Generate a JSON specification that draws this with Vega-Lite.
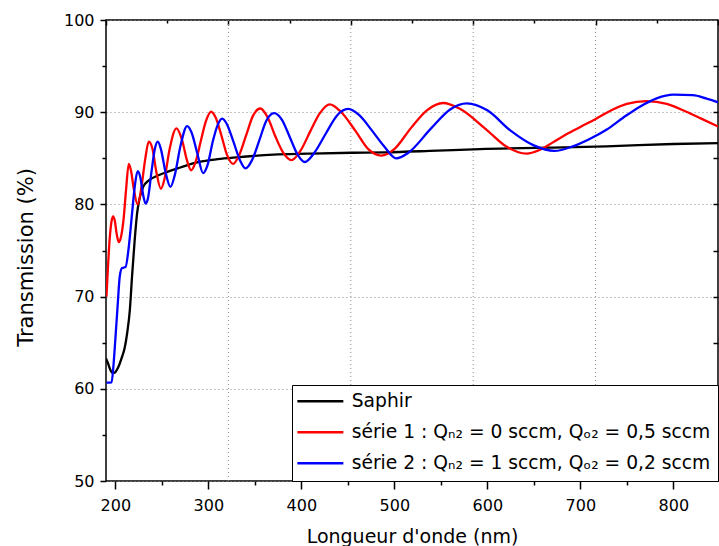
{
  "$schema": "https://vega.github.io/schema/vega-lite/v6.json",
  "width": 612,
  "height": 461,
  "autosize": {"type": "none"},
  "padding": {"left": 106, "top": 20, "right": 1, "bottom": 65},
  "config": {
    "view": {"stroke": "black", "strokeWidth": 1.5},
    "font": "DejaVu Sans",
    "axis": {
      "domain": false,
      "tickColor": "black",
      "tickWidth": 1.5,
      "labelFont": "DejaVu Sans",
      "labelFontSize": 16,
      "labelColor": "black",
      "titleFont": "DejaVu Sans",
      "titleFontSize": 19,
      "titleFontWeight": "normal",
      "titleColor": "black"
    }
  },
  "datasets": {
    "series": [
      {"s":"a","x":190,"y":63.3},{"s":"a","x":192,"y":62.8},{"s":"a","x":194.5,"y":62.1},{"s":"a","x":197.3,"y":61.7},{"s":"a","x":200,"y":61.8},{"s":"a","x":203,"y":62.3},{"s":"a","x":207.3,"y":63.5},{"s":"a","x":210,"y":64.4},{"s":"a","x":212.7,"y":66},{"s":"a","x":215.6,"y":68.5},{"s":"a","x":218,"y":72.2},{"s":"a","x":220.6,"y":75.8},{"s":"a","x":223.4,"y":79},{"s":"a","x":226,"y":80.6},{"s":"a","x":230,"y":81.9},{"s":"a","x":236,"y":82.6},{"s":"a","x":245,"y":83.1},{"s":"a","x":255,"y":83.5},{"s":"a","x":270,"y":84.0},{"s":"a","x":290,"y":84.6},{"s":"a","x":310,"y":84.9},{"s":"a","x":330,"y":85.1},{"s":"a","x":370,"y":85.4},{"s":"a","x":407,"y":85.5},{"s":"a","x":454,"y":85.6},{"s":"a","x":490,"y":85.65},{"s":"a","x":538,"y":85.8},{"s":"a","x":592,"y":86.0},{"s":"a","x":667,"y":86.15},{"s":"a","x":728,"y":86.3},{"s":"a","x":800,"y":86.55},{"s":"a","x":848,"y":86.65},
      {"s":"b","x":190.5,"y":70.0},{"s":"b","x":192,"y":73},{"s":"b","x":194,"y":76.3},{"s":"b","x":196,"y":78.2},{"s":"b","x":197.7,"y":78.7},{"s":"b","x":199.5,"y":78.2},{"s":"b","x":201.5,"y":76.8},{"s":"b","x":203.8,"y":75.9},{"s":"b","x":206,"y":76.4},{"s":"b","x":209,"y":78.5},{"s":"b","x":211.5,"y":81.5},{"s":"b","x":214.5,"y":84.4},{"s":"b","x":217,"y":83.6},{"s":"b","x":220,"y":81.6},{"s":"b","x":224,"y":80.0},{"s":"b","x":228,"y":81.8},{"s":"b","x":232,"y":84.8},{"s":"b","x":236,"y":86.8},{"s":"b","x":240,"y":86.0},{"s":"b","x":244,"y":83.6},{"s":"b","x":249,"y":81.7},{"s":"b","x":253,"y":82.8},{"s":"b","x":258,"y":85.8},{"s":"b","x":265.8,"y":88.25},{"s":"b","x":272,"y":86.9},{"s":"b","x":277,"y":84.8},{"s":"b","x":281.5,"y":83.7},{"s":"b","x":286,"y":84.5},{"s":"b","x":292,"y":86.9},{"s":"b","x":297,"y":88.9},{"s":"b","x":303,"y":90.05},{"s":"b","x":308,"y":89.4},{"s":"b","x":314,"y":87.5},{"s":"b","x":320,"y":85.4},{"s":"b","x":326.7,"y":84.4},{"s":"b","x":333,"y":85.3},{"s":"b","x":341,"y":87.6},{"s":"b","x":348,"y":89.6},{"s":"b","x":356,"y":90.4},{"s":"b","x":364,"y":89.4},{"s":"b","x":372,"y":87.4},{"s":"b","x":380,"y":85.7},{"s":"b","x":389.5,"y":84.8},{"s":"b","x":399,"y":85.8},{"s":"b","x":410,"y":88.0},{"s":"b","x":420,"y":89.9},{"s":"b","x":430.6,"y":90.85},{"s":"b","x":442,"y":90.1},{"s":"b","x":458,"y":88.0},{"s":"b","x":472,"y":86.0},{"s":"b","x":486,"y":85.3},{"s":"b","x":500,"y":86.0},{"s":"b","x":518,"y":88.3},{"s":"b","x":535,"y":90.2},{"s":"b","x":552.5,"y":91.0},{"s":"b","x":570,"y":90.4},{"s":"b","x":598,"y":88.2},{"s":"b","x":620,"y":86.3},{"s":"b","x":642,"y":85.5},{"s":"b","x":656,"y":85.9},{"s":"b","x":670,"y":86.7},{"s":"b","x":685,"y":87.6},{"s":"b","x":700,"y":88.4},{"s":"b","x":717,"y":89.3},{"s":"b","x":735,"y":90.3},{"s":"b","x":750,"y":90.9},{"s":"b","x":771,"y":91.2},{"s":"b","x":793,"y":90.9},{"s":"b","x":814,"y":90.05},{"s":"b","x":830,"y":89.3},{"s":"b","x":849,"y":88.4},
      {"s":"c","x":190.5,"y":60.66},{"s":"c","x":196,"y":60.7},{"s":"c","x":198,"y":62.5},{"s":"c","x":200,"y":65.3},{"s":"c","x":202.5,"y":69},{"s":"c","x":204.8,"y":72.2},{"s":"c","x":207.3,"y":73.1},{"s":"c","x":211,"y":73.2},{"s":"c","x":214.5,"y":75.4},{"s":"c","x":218,"y":79.0},{"s":"c","x":221,"y":82.0},{"s":"c","x":224,"y":83.6},{"s":"c","x":227,"y":82.9},{"s":"c","x":230,"y":81.0},{"s":"c","x":232.5,"y":80.1},{"s":"c","x":235,"y":80.6},{"s":"c","x":239,"y":83.6},{"s":"c","x":242.5,"y":86.0},{"s":"c","x":245.7,"y":86.8},{"s":"c","x":249,"y":86.0},{"s":"c","x":254,"y":83.5},{"s":"c","x":259.3,"y":81.9},{"s":"c","x":264,"y":83.2},{"s":"c","x":270,"y":86.3},{"s":"c","x":277.2,"y":88.5},{"s":"c","x":282,"y":87.8},{"s":"c","x":288,"y":85.6},{"s":"c","x":294.4,"y":83.4},{"s":"c","x":299,"y":84.2},{"s":"c","x":305,"y":86.9},{"s":"c","x":310,"y":88.6},{"s":"c","x":315,"y":89.3},{"s":"c","x":320,"y":88.7},{"s":"c","x":327,"y":86.8},{"s":"c","x":334,"y":84.8},{"s":"c","x":340,"y":83.9},{"s":"c","x":347,"y":84.8},{"s":"c","x":355,"y":87},{"s":"c","x":362,"y":89.0},{"s":"c","x":370.8,"y":89.9},{"s":"c","x":379,"y":89.2},{"s":"c","x":388,"y":87.2},{"s":"c","x":396,"y":85.4},{"s":"c","x":403.8,"y":84.6},{"s":"c","x":414,"y":85.6},{"s":"c","x":427,"y":87.8},{"s":"c","x":438,"y":89.6},{"s":"c","x":450.3,"y":90.35},{"s":"c","x":462,"y":89.7},{"s":"c","x":476,"y":88.0},{"s":"c","x":489,"y":86.3},{"s":"c","x":502,"y":85.0},{"s":"c","x":515,"y":85.6},{"s":"c","x":540,"y":88.3},{"s":"c","x":560,"y":90.3},{"s":"c","x":578,"y":90.96},{"s":"c","x":600,"y":90.2},{"s":"c","x":625,"y":88.0},{"s":"c","x":650,"y":86.4},{"s":"c","x":672,"y":85.8},{"s":"c","x":692,"y":86.3},{"s":"c","x":710,"y":87.1},{"s":"c","x":728,"y":88.1},{"s":"c","x":746,"y":89.4},{"s":"c","x":764,"y":90.6},{"s":"c","x":782,"y":91.5},{"s":"c","x":800,"y":91.9},{"s":"c","x":821,"y":91.85},{"s":"c","x":835,"y":91.5},{"s":"c","x":849,"y":91.05}
    ],
    "vgrid": [{"g": 2}, {"g": 4}, {"g": 6}, {"g": 8}],
    "dummy": [{"xm": 250, "ym": 55, "xt": 1, "yr": 55}]
  },
  "layer": [
    {
      "data": {"name": "vgrid"},
      "mark": {"type": "rule", "color": "#8c8c8c", "strokeWidth": 1, "strokeDash": [1, 3]},
      "encoding": {
        "x": {
          "field": "g", "type": "quantitative",
          "scale": {"domain": [0, 10], "nice": false, "zero": false},
          "axis": {"orient": "top", "values": [0, 2, 4, 6, 8, 10], "tickSize": -5, "labels": false, "title": null, "grid": false}
        }
      }
    },
    {
      "data": {"name": "dummy"},
      "mark": {"type": "point", "opacity": 0},
      "encoding": {
        "x": {
          "field": "xt", "type": "quantitative",
          "scale": {"domain": [0, 10], "nice": false, "zero": false},
          "axis": {"orient": "top", "values": [1, 3, 5, 7, 9], "tickSize": -3, "labels": false, "title": null, "grid": false}
        },
        "y": {
          "field": "yr", "type": "quantitative",
          "scale": {"domain": [50, 100], "nice": false, "zero": false},
          "axis": {"orient": "right", "values": [55, 60, 65, 70, 75, 80, 85, 90, 95], "tickSize": -5, "labels": false, "title": null, "grid": false}
        }
      }
    },
    {
      "data": {"name": "dummy"},
      "mark": {"type": "point", "opacity": 0},
      "encoding": {
        "x": {
          "field": "xm", "type": "quantitative",
          "scale": {"domain": [190, 848], "nice": false, "zero": false},
          "axis": {"orient": "bottom", "values": [250, 350, 450, 550, 650, 750], "tickSize": 4, "labels": false, "title": null, "grid": false}
        },
        "y": {
          "field": "ym", "type": "quantitative",
          "scale": {"domain": [50, 100], "nice": false, "zero": false},
          "axis": {"orient": "left", "values": [55, 65, 75, 85, 95], "tickSize": 4, "labels": false, "title": null, "grid": false}
        }
      }
    },
    {
      "data": {"name": "series"},
      "mark": {"type": "line", "strokeWidth": 2.3, "interpolate": "monotone", "clip": true},
      "encoding": {
        "x": {
          "field": "x", "type": "quantitative",
          "scale": {"domain": [190, 848], "nice": false, "zero": false},
          "axis": {"orient": "bottom", "values": [200, 300, 400, 500, 600, 700, 800], "tickSize": 8, "labelPadding": 8, "title": "Longueur d'onde (nm)", "titlePadding": 14, "grid": false}
        },
        "y": {
          "field": "y", "type": "quantitative",
          "scale": {"domain": [50, 100], "nice": false, "zero": false},
          "axis": {"orient": "left", "values": [50, 60, 70, 80, 90, 100], "tickSize": 6, "labelPadding": 6, "title": "Transmission (%)", "titleFontSize": 21, "titleY": 237, "titlePadding": 27, "grid": true, "gridDash": [1, 3], "gridColor": "#8c8c8c", "gridWidth": 1}
        },
        "color": {
          "field": "s", "type": "nominal",
          "scale": {"domain": ["a", "b", "c"], "range": ["#000000", "#ff0000", "#0000ff"]},
          "legend": {
            "orient": "bottom-right",
            "offset": 0,
            "title": null,
            "symbolType": "M-3,0H3",
            "symbolSize": 235,
            "symbolStrokeWidth": 2.5,
            "symbolOffset": 12,
            "labelOffset": 22,
            "labelFont": "DejaVu Sans",
            "labelFontSize": 18.7,
            "labelColor": "black",
            "labelLimit": 600,
            "rowPadding": 11,
            "padding": 7,
            "strokeColor": "black",
            "fillColor": "white",
            "cornerRadius": 0,
            "labelExpr": "datum.label == 'a' ? 'Saphir' : datum.label == 'b' ? 'série 1 : Qₙ₂ = 0 sccm, Qₒ₂ = 0,5 sccm' : 'série 2 : Qₙ₂ = 1 sccm, Qₒ₂ = 0,2 sccm'"
          }
        }
      }
    }
  ],
  "resolve": {
    "scale": {"x": "independent", "y": "independent", "color": "independent"},
    "axis": {"x": "independent", "y": "independent"}
  }
}
